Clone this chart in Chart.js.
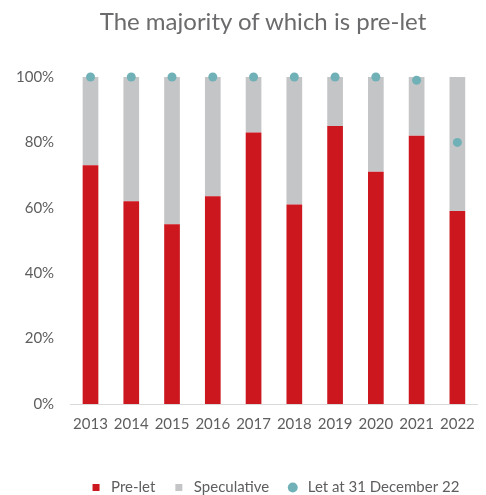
<!DOCTYPE html>
<html>
<head>
<meta charset="utf-8">
<script src="https://cdn.jsdelivr.net/npm/chart.js@4/dist/chart.umd.min.js"></script>
<style>
  html, body { margin: 0; padding: 0; background: #fff; overflow: hidden; }
  #wrap { position: relative; width: 486px; height: 495px; }
  #title {
    position: absolute; left: 40px; width: 446px; top: 6px;
    text-align: center; font-family: Lato, sans-serif; font-size: 24px;
    color: #6b6b6d; white-space: nowrap;
  }
</style>
</head>
<body>
<div id="wrap">
  <div id="title">The majority of which is pre-let</div>
  <canvas id="myChart" width="486" height="495"></canvas>
</div>
<script>
// chart data
var years = ["2013", "2014", "2015", "2016", "2017", "2018", "2019", "2020", "2021", "2022"];
var preLet = [73, 62, 55, 63.5, 83, 61, 85, 71, 82, 59];
var speculative = [27, 38, 45, 36.5, 17, 39, 15, 29, 18, 41];
var letAtDec22 = [100, 100, 100, 100, 100, 100, 100, 100, 99, 80];
var yTicks = [0, 20, 40, 60, 80, 100];

var textColor = '#5e5e60';

if ( document.getElementById('myChart') != null ) {
  var ctx = document.getElementById('myChart').getContext('2d');
  var chart = new Chart(ctx, {
    type: 'bar',
    data: {
      labels: years,
      datasets: [{
        label: 'Pre-let',
        data: preLet,
        backgroundColor: '#cc171f',
        pointStyle: 'rect',
        barPercentage: 0.77,
        categoryPercentage: 0.5,
        order: 1
      }, {
        label: 'Speculative',
        data: speculative,
        backgroundColor: '#c4c5c7',
        pointStyle: 'rect',
        barPercentage: 0.77,
        categoryPercentage: 0.5,
        order: 1
      }, {
        type: 'line',
        label: 'Let at 31 December 22',
        data: letAtDec22,
        showLine: false,
        clip: false,
        stack: 'dots',
        pointStyle: 'circle',
        pointRadius: 4.5,
        pointBackgroundColor: '#70b1b7',
        pointBorderWidth: 0,
        backgroundColor: '#70b1b7',
        borderColor: '#70b1b7',
        order: 0
      }]
    },
    options: {
      responsive: false,
      animation: false,
      layout: { padding: { top: 77, left: 0, right: 1, bottom: -10 } },
      scales: {
        x: {
          stacked: true,
          grid: { display: false, drawTicks: false },
          border: { display: true, color: '#d9d9d9', width: 1 },
          ticks: {
            color: textColor, font: { family: 'Lato', size: 15 }, padding: 11,
            maxRotation: 0, autoSkip: false
          },
          // leave room between the year labels and the legend
          afterFit: function(scale) { scale.height += 20; }
        },
        y: {
          stacked: true,
          min: 0,
          max: 100,
          grid: { display: false, drawTicks: false },
          border: { display: false },
          afterBuildTicks: function(axis) {
            axis.ticks = yTicks.map(function(v) { return { value: v }; });
          },
          ticks: {
            color: textColor,
            font: { family: 'Lato', size: 15 },
            padding: 16,
            callback: function(v) { return v + '%'; }
          }
        }
      },
      plugins: {
        tooltip: { enabled: false },
        legend: {
          position: 'bottom',
          fullSize: false,
          labels: {
            usePointStyle: true,
            boxHeight: 7,
            color: textColor,
            font: { family: 'Lato', size: 15 },
            padding: 16,
            sort: function(a, b) { return a.datasetIndex - b.datasetIndex; }
          }
        }
      }
    }
  });
}
</script>
</body>
</html>
